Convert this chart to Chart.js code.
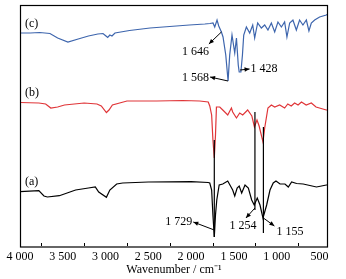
<!DOCTYPE html>
<html>
<head>
<meta charset="utf-8">
<script src="https://cdn.jsdelivr.net/npm/chart.js@4.4.1/dist/chart.umd.min.js"></script>
<style>
  html, body { margin: 0; padding: 0; background: #ffffff; }
  #wrap { width: 346px; height: 279px; }
</style>
</head>
<body>
<div id="wrap"><canvas id="c" width="346" height="279"></canvas></div>
<script>
// ---- Data (wavenumber in cm^-1, offset signal in a.u.; larger value = lower on plot) ----
const waveC = [4000,3880,3770,3650,3560,3440,3320,3200,3090,3030,2995,2975,2950,2925,2890,2720,2480,2250,2020,1840,1780,1744,1724,1697,1677,1646,1627,1595,1568,1549,1522,1490,1470,1449,1438,1418,1400,1385,1354,1315,1280,1257,1239,1222,1179,1140,1102,1062,1023,985,945,907,880,848,810,770,732,693,653,623,595,556,498,420,400];
const valC  = [33,33,32.5,33.5,38,42,39,36,34,33.5,36,37.5,35,36,33,30.5,28,26.5,25,24,23.5,23,27,20,26,32,37,55,81,55,35,53,38,65,72,72,55,35,27,33,25,38,30,23,28,25,30,23,32,22,27,22,37,23,20,30,20,25,20,31,23,20,17,15,14];

const waveB = [4000,3780,3700,3640,3560,3480,3250,3100,3050,2990,2960,2920,2750,2400,2100,1900,1800,1782,1760,1745,1729,1715,1704,1665,1630,1572,1529,1514,1470,1432,1397,1339,1290,1260,1230,1205,1160,1140,1102,1062,1023,965,907,870,830,790,750,710,655,595,540,420,400];
const valB  = [102.5,103,104,108,107,105,103,104,106,112.5,110,105,101,101,100.5,101,102,106,115,140,158,135,107,107,110,115,108,112,118,113,115,110,116,127,120,126,142,128,108,105,107,105,108,104,106,103,105,102,105,103,107,110,110];

const waveA = [4000,3780,3720,3680,3540,3350,3200,3120,3080,2990,2950,2870,2800,2500,2000,1800,1782,1760,1745,1729,1715,1700,1672,1630,1572,1514,1490,1462,1438,1409,1370,1331,1292,1262,1227,1195,1160,1117,1078,1040,1008,961,903,864,825,767,690,612,535,476,420,400];
const valA  = [191.7,190.7,196,197,195.7,190,188,187,192,197.3,190,184,183,182,181.7,182.5,183,190,215,237,215,200,185,184,181,190,196,188,186,193,185,188,200,205,198,205,218,205,190,183,181,184,184,187,182,183.5,184,185.5,187,186,185,185];

// Marker lines linking (b) and (a)
const markerWave  = [1729, 1254, 1155];
const markerStart = [140, 112, 127];
const markerEnd   = [237, 210, 233];

// Peak annotations
const annLabels = ['1 646', '1 568', '1 428', '1 729', '1 254', '1 155'];
const annWave   = [1646, 1568, 1428, 1729, 1254, 1155];
const annVal    = [32, 81, 70, 230, 208, 218];

// Panel labels
const panelLabels = ['(c)', '(b)', '(a)'];
const panelVals   = [24, 93, 182];

// X ticks
const xMajorStep = 500;
const xMinorStep = 250;
const xMin = 400, xMax = 4000;

// ---- Helpers ----
function pts(w, v) { return w.map((x, i) => ({ x: x, y: v[i] })); }
function fmt(n) {
  if (n >= 1000) { const t = Math.floor(n / 1000); const r = String(n % 1000).padStart(3, '0'); return t + ' ' + r; }
  return String(n);
}

const FONT = "'Liberation Serif', 'Times New Roman', serif";

const markerSets = markerWave.map((w, i) => ({
  data: [{ x: w, y: markerStart[i] }, { x: w, y: markerEnd[i] }],
  borderColor: '#000000', borderWidth: 1.2, pointRadius: 0, tension: 0, order: 0
}));

const annotPlugin = {
  id: 'annot',
  afterDraw(chart) {
    const { ctx, chartArea: a, scales: { x, y } } = chart;
    ctx.save();
    // frame
    ctx.strokeStyle = '#000';
    ctx.lineWidth = 1.2;
    ctx.strokeRect(a.left + 0.5, a.top + 0.5, a.right - a.left - 1, a.bottom - a.top - 0.5);
    const B = Math.round(a.bottom);
    ctx.fillStyle = '#000';
    // inward minor ticks
    for (let v = xMax - xMinorStep; v > xMin; v -= xMajorStep) {
      const px = Math.round(x.getPixelForValue(v));
      ctx.fillRect(px, B - 4, 1, 3);
    }
    ctx.font = '12px ' + FONT;
    ctx.textBaseline = 'middle';
    ctx.textAlign = 'left';
    panelLabels.forEach((t, i) => ctx.fillText(t, a.left + 5, y.getPixelForValue(panelVals[i])));

    // arrow layout: head offset from tail (dx, dy), text offset from head (tx, ty), alignment
    const lay = [
      { dx: -12.5, dy: 12, tx: 0,  ty: 8,  al: 'right' },
      { dx: -18,   dy: -4, tx: -1, ty: 1,  al: 'right' },
      { dx: 9.5,   dy: -1, tx: 1,  ty: 0,  al: 'left' },
      { dx: -21,   dy: -8, tx: -1, ty: 0,  al: 'right' },
      { dx: -9,    dy: 10, tx: -3, ty: 8,  al: 'center' },
      { dx: 11,    dy: 8,  tx: 2,  ty: 6,  al: 'left' }
    ];
    annLabels.forEach((t, i) => {
      const Lt = lay[i];
      const x0 = x.getPixelForValue(annWave[i]);
      const y0 = y.getPixelForValue(annVal[i]);
      const x1 = x0 + Lt.dx, y1 = y0 + Lt.dy;
      ctx.beginPath(); ctx.moveTo(x0, y0); ctx.lineTo(x1, y1); ctx.lineWidth = 1; ctx.stroke();
      const ang = Math.atan2(y1 - y0, x1 - x0);
      const hl = 5, hw = 2.2;
      ctx.beginPath();
      ctx.moveTo(x1, y1);
      ctx.lineTo(x1 - hl * Math.cos(ang) + hw * Math.sin(ang), y1 - hl * Math.sin(ang) - hw * Math.cos(ang));
      ctx.lineTo(x1 - hl * Math.cos(ang) - hw * Math.sin(ang), y1 - hl * Math.sin(ang) + hw * Math.cos(ang));
      ctx.closePath(); ctx.fill();
      ctx.textAlign = Lt.al;
      ctx.fillText(t, x1 + Lt.tx, y1 + Lt.ty);
    });
    ctx.restore();
  }
};

new Chart(document.getElementById('c'), {
  type: 'line',
  data: {
    datasets: [
      ...markerSets,
      { label: '(a)', data: pts(waveA, valA), borderColor: '#000000', borderWidth: 1.2, pointRadius: 0, tension: 0, order: 1 },
      { label: '(b)', data: pts(waveB, valB), borderColor: '#e03538', borderWidth: 1.2, pointRadius: 0, tension: 0, order: 2 },
      { label: '(c)', data: pts(waveC, valC), borderColor: '#3d65ad', borderWidth: 1.2, pointRadius: 0, tension: 0, order: 3 }
    ]
  },
  options: {
    responsive: false,
    animation: false,
    events: [],
    layout: { padding: { left: 20, right: 18, top: 5, bottom: 0 } },
    plugins: { legend: { display: false }, tooltip: { enabled: false } },
    scales: {
      x: {
        type: 'linear', reverse: true, min: xMin, max: xMax,
        afterBuildTicks: (s) => {
          const t = [];
          for (let v = xMax; v >= 500; v -= xMinorStep) t.push({ value: v });
          s.ticks = t;
        },
        afterFit: (s) => { s.height = 32; },
        ticks: {
          autoSkip: false, maxRotation: 0, padding: 3, color: '#000',
          font: { family: FONT, size: 12 },
          callback: (v) => (v % xMajorStep === 0 ? fmt(v) : '')
        },
        grid: { display: false, drawTicks: false },
        border: { display: false },
        title: { display: true, text: 'Wavenumber / cm\u207B\u00B9', color: '#000', font: { family: FONT, size: 12 }, padding: { top: 0, bottom: 2 } }
      },
      y: { type: 'linear', reverse: true, min: 5, max: 247, display: false }
    }
  },
  plugins: [annotPlugin]
});
</script>
</body>
</html>
